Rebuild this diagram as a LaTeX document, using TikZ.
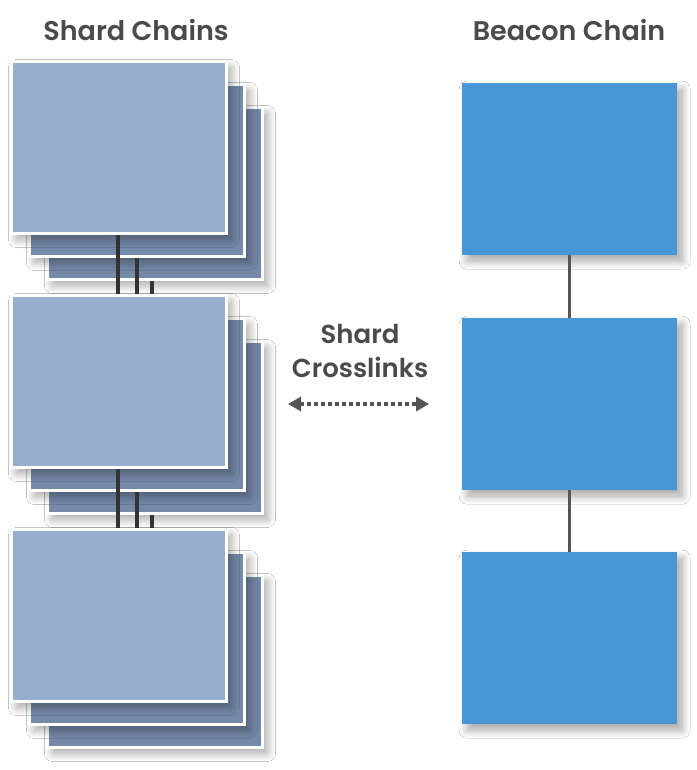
\documentclass[tikz,border=0pt]{standalone}
\usepackage{fontspec}
\newfontfamily\lblfont{Poppins SemiBold}
\usetikzlibrary{arrows.meta,shadows.blur}
\definecolor{shardfront}{HTML}{98AECE}
\definecolor{shardback}{HTML}{7589A8}
\definecolor{beacon}{HTML}{4797D7}
\definecolor{txt}{HTML}{4A4A4A}
\definecolor{barc}{HTML}{333333}
\definecolor{linkc}{HTML}{555555}
\tikzset{
  softshadow/.style={blur shadow={shadow xshift=5pt, shadow yshift=-6pt,
    shadow blur radius=8pt, shadow blur steps=16, shadow opacity=35}},
  sbox/.style={draw=white, line width=3pt, minimum width=215pt, minimum height=172pt,
    anchor=north west, inner sep=0pt, softshadow},
  sfront/.style={sbox, fill=shardfront},
  sback/.style={sbox, fill=shardback},
  bbox/.style={fill=beacon, minimum width=215pt, minimum height=172pt, anchor=north west,
    inner sep=0pt, softshadow},
  bar/.style={draw=barc, line width=4pt},
  blink/.style={draw=linkc, line width=3.5pt},
  title/.style={font=\lblfont\fontsize{27}{31}\selectfont, text=txt},
  sub/.style={font=\lblfont\fontsize{26}{30}\selectfont, text=txt},
}
\begin{document}
\begin{tikzpicture}[x=1pt,y=-1pt]
\useasboundingbox[fill=white] (0,0) rectangle (696,770);
% titles
\node[title] (t1) at (136,30) {Shard Chains};
\node[title] (t2) at (569,30) {Beacon Chain};
% shard stacks (back to front)
\node[sback] (s1c) at (46,106) {};
\node[sback] (s1b) at (28,83) {};
\node[sfront] (s1a) at (10,60) {};
\node[sback] (s2c) at (46,340) {};
\node[sback] (s2b) at (28,317) {};
\node[sfront] (s2a) at (10,294) {};
\node[sback] (s3c) at (46,574) {};
\node[sback] (s3b) at (28,551) {};
\node[sfront] (s3a) at (10,528) {};
% shard links
\draw[bar] ([xshift=108pt]s1a.south west) coordinate (p1) -- (p1 |- s2a.north);
\draw[bar] ([xshift=109pt]s1b.south west) coordinate (p2) -- (p2 |- s2a.north);
\draw[bar] ([xshift=106pt]s1c.south west) coordinate (p3) -- (p3 |- s2a.north);
\draw[bar] ([xshift=108pt]s2a.south west) coordinate (q1) -- (q1 |- s3a.north);
\draw[bar] ([xshift=109pt]s2b.south west) coordinate (q2) -- (q2 |- s3a.north);
\draw[bar] ([xshift=106pt]s2c.south west) coordinate (q3) -- (q3 |- s3a.north);
% beacon chain
\node[bbox] (b1) at (462,83) {};
\node[bbox] (b2) at (462,318) {};
\node[bbox] (b3) at (462,552) {};
\draw[blink] (b1.south) -- (b2.north);
\draw[blink] (b2.south) -- (b3.north);
% crosslinks
\node[sub] (c1) at (360,334) {Shard};
\node[sub] (c2) at (360,367) {Crosslinks};
\coordinate (al) at (288,404);
\coordinate (ar) at (429,404);
\draw[linkc, line width=4pt, dash pattern=on 4pt off 3pt,
  {Triangle[length=13pt,width=14pt]}-{Triangle[length=13pt,width=14pt]}] (al) -- (ar);
\end{tikzpicture}
\end{document}
